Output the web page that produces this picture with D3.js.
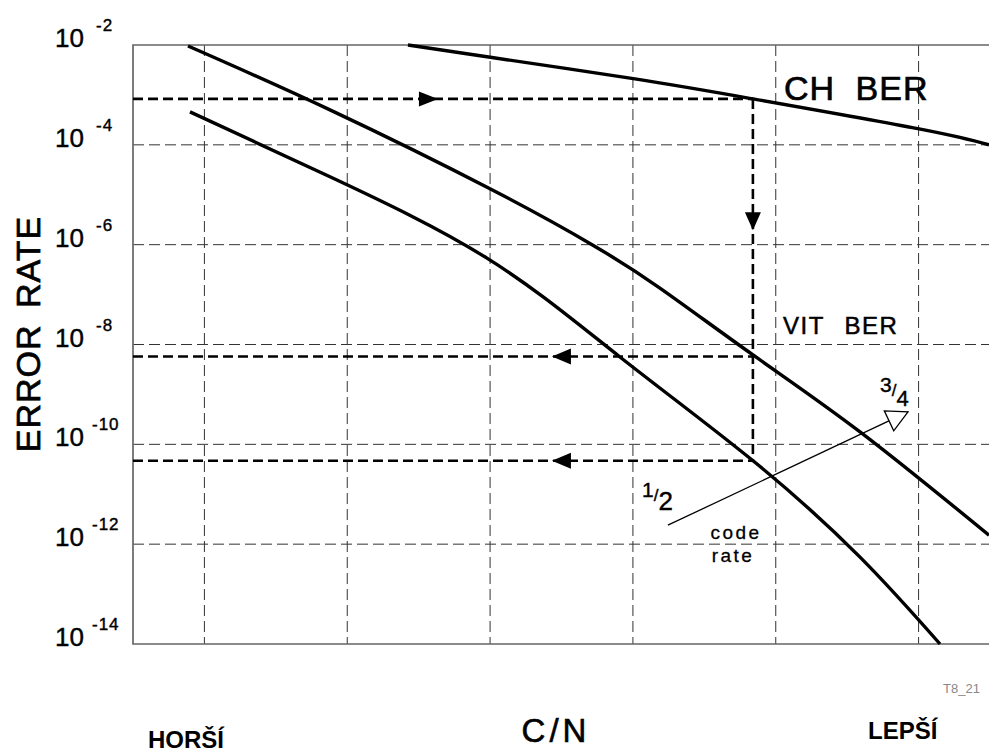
<!DOCTYPE html>
<html>
<head>
<meta charset="utf-8">
<script src="https://cdn.jsdelivr.net/npm/d3@7"></script>
<style>
  body { margin: 0; background: #fff; }
  svg { display: block; font-family: "Liberation Sans", Arial, sans-serif; }
</style>
</head>
<body>
<div id="chart"></div>
<script>
// C/N in arbitrary dB-like units, BER as decimal exponent
const cnGrid = [3, 4, 5, 6, 7, 8];
const berTicks = [-2, -4, -6, -8, -10, -12, -14];

const chBerCN  = [4.425, 5.013, 6.014, 6.841, 8.003, 8.493];
const chBerExp = [-2.00, -2.25, -2.68, -3.08, -3.68, -4.00];

const vit34CN  = [2.885, 3.879, 5.013, 5.720, 6.189, 6.841, 7.590, 8.493];
const vit34Exp = [-2.02, -3.30, -4.90, -6.01, -6.87, -8.21, -9.75, -11.82];

const vit12CN  = [2.899, 3.879, 4.978, 5.909, 6.841, 7.590, 8.150];
const vit12Exp = [-3.34, -4.64, -6.27, -8.25, -10.33, -12.26, -14.00];

// operating point used for the dashed read-off lines
const opCN = 6.84;
const opChExp = -3.08;
const opVitExp = [-8.24, -10.33];

const width = 989, height = 754;

const x = d3.scaleLinear().domain([2.5, 8.5]).range([133, 990]);
const y = d3.scaleLog().domain([1e-2, 1e-14]).range([45, 644]);
const ye = e => y(Math.pow(10, e));

const svg = d3.select('#chart')
  .append('svg')
  .attr('width', width)
  .attr('height', height);

// grid
svg.append('g')
  .selectAll('line')
  .data(berTicks.slice(1, -1))
  .enter()
  .append('line')
  .attr('x1', x(2.5)).attr('x2', width)
  .attr('y1', d => ye(d)).attr('y2', d => ye(d))
  .style('stroke', '#333').style('stroke-width', 1)
  .style('stroke-dasharray', '11,5');

svg.append('g')
  .selectAll('line')
  .data(cnGrid)
  .enter()
  .append('line')
  .attr('x1', d => x(d)).attr('x2', d => x(d))
  .attr('y1', ye(-2)).attr('y2', ye(-14))
  .style('stroke', '#333').style('stroke-width', 1)
  .style('stroke-dasharray', '11,5');

// frame (right side is cut off by the page)
svg.append('path')
  .attr('d', `M${width},${ye(-2)}H${x(2.5)}V${ye(-14)}H${width}`)
  .style('fill', 'none').style('stroke', '#666').style('stroke-width', 1.7);

// y tick labels 10^n
const tl = svg.append('g')
  .selectAll('text')
  .data(berTicks)
  .enter()
  .append('text')
  .attr('x', 55)
  .attr('y', d => ye(d) + 2)
  .style('font-size', '26px')
  .style('fill', '#000')
  .style('stroke', '#000').style('stroke-width', 0.4);
tl.append('tspan').text('10');
tl.append('tspan')
  .attr('x', d => d > -10 ? 96 : 92)
  .attr('dy', -16)
  .style('font-size', '17px')
  .style('letter-spacing', '1px')
  .text(d => '-' + Math.abs(d));

// curves
const line = d3.line()
  .x(d => x(d[0]))
  .y(d => ye(d[1]))
  .curve(d3.curveNatural);

const series = [
  d3.zip(chBerCN, chBerExp),
  d3.zip(vit34CN, vit34Exp),
  d3.zip(vit12CN, vit12Exp)
];

svg.append('g')
  .selectAll('path')
  .data(series)
  .enter()
  .append('path')
  .attr('d', line)
  .style('fill', 'none')
  .style('stroke', '#000')
  .style('stroke-width', 3.4)
  .style('stroke-linejoin', 'round');

// dashed read-off lines
const ref = svg.append('g')
  .style('stroke', '#000').style('stroke-width', 2.6)
  .style('stroke-dasharray', '10,5').style('fill', 'none');

ref.append('line')
  .attr('x1', x(2.5)).attr('x2', x(opCN))
  .attr('y1', ye(opChExp)).attr('y2', ye(opChExp));
ref.append('line')
  .attr('x1', x(opCN)).attr('x2', x(opCN))
  .attr('y1', ye(opChExp)).attr('y2', ye(opVitExp[1]));
ref.selectAll('.h')
  .data(opVitExp)
  .enter()
  .append('line')
  .attr('x1', x(2.5)).attr('x2', x(opCN))
  .attr('y1', d => ye(d)).attr('y2', d => ye(d));

// triangle arrowhead: tip point, direction, length, half width
function arrowHead(tx, ty, dx, dy, len, hw) {
  const n = Math.sqrt(dx * dx + dy * dy);
  const ux = dx / n, uy = dy / n;
  const bx = tx - ux * len, by = ty - uy * len;
  return `M${tx},${ty}L${bx - uy * hw},${by + ux * hw}L${bx + uy * hw},${by - ux * hw}Z`;
}

const heads = svg.append('g').style('fill', '#000');
heads.append('path').attr('d', arrowHead(x(4.635), ye(opChExp), 1, 0, 19, 7.5));
heads.append('path').attr('d', arrowHead(x(opCN), ye(-5.71), 0, 1, 18, 8));
heads.selectAll('.l')
  .data(opVitExp)
  .enter()
  .append('path')
  .attr('d', d => arrowHead(x(5.433), ye(d), -1, 0, 19, 8));

// code rate arrow
const crFrom = [6.245, -11.62], crTo = [7.926, -9.35];
svg.append('line')
  .attr('x1', x(crFrom[0])).attr('y1', ye(crFrom[1]))
  .attr('x2', x(crTo[0])).attr('y2', ye(crTo[1]))
  .style('stroke', '#000').style('stroke-width', 1.3);
svg.append('path')
  .attr('d', arrowHead(x(crTo[0]), ye(crTo[1]),
    x(crTo[0]) - x(crFrom[0]), ye(crTo[1]) - ye(crFrom[1]), 21, 11))
  .style('fill', '#fff').style('stroke', '#000').style('stroke-width', 1.3);

// labels
svg.append('text')
  .attr('x', 784).attr('y', 100)
  .style('font-size', '34px')
  .style('stroke', '#000').style('stroke-width', 0.7)
  .style('letter-spacing', '1px').style('word-spacing', '10px')
  .text('CH BER');

svg.append('text')
  .attr('x', 783).attr('y', 334)
  .style('font-size', '24px')
  .style('stroke', '#000').style('stroke-width', 0.5)
  .style('letter-spacing', '1.5px').style('word-spacing', '12px')
  .text('VIT BER');

const r34 = svg.append('text').attr('x', 880).attr('y', 392)
  .style('stroke', '#000').style('stroke-width', 0.4);
r34.append('tspan').style('font-size', '21px').text('3');
r34.append('tspan').attr('dy', 4).style('font-size', '17px').text('/');
r34.append('tspan').attr('dy', 10).style('font-size', '22px').text('4');

const r12 = svg.append('text').attr('x', 642).attr('y', 497)
  .style('stroke', '#000').style('stroke-width', 0.4);
r12.append('tspan').style('font-size', '21px').text('1');
r12.append('tspan').attr('dy', 4).style('font-size', '17px').text('/');
r12.append('tspan').attr('dy', 9).style('font-size', '26px').text('2');

svg.append('text')
  .attr('x', 736).attr('y', 539)
  .attr('text-anchor', 'middle')
  .style('font-size', '19px').style('letter-spacing', '2.5px')
  .style('stroke', '#000').style('stroke-width', 0.3)
  .text('code');
svg.append('text')
  .attr('x', 733).attr('y', 562)
  .attr('text-anchor', 'middle')
  .style('font-size', '19px').style('letter-spacing', '2.5px')
  .style('stroke', '#000').style('stroke-width', 0.3)
  .text('rate');

// axis titles
svg.append('text')
  .attr('transform', 'translate(40,334) rotate(-90)')
  .attr('text-anchor', 'middle')
  .style('font-size', '34px')
  .style('stroke', '#000').style('stroke-width', 0.7)
  .style('letter-spacing', '1px').style('word-spacing', '6px')
  .text('ERROR RATE');

svg.append('text')
  .attr('x', 556).attr('y', 742)
  .attr('text-anchor', 'middle')
  .style('font-size', '33px').style('letter-spacing', '4px')
  .style('stroke', '#000').style('stroke-width', 0.6)
  .text('C/N');

svg.append('text')
  .attr('x', 148).attr('y', 748)
  .style('font-size', '24px').style('font-weight', 'bold')
  .text('HORŠÍ');

svg.append('text')
  .attr('x', 868).attr('y', 739)
  .style('font-size', '24px').style('font-weight', 'bold')
  .text('LEPŠÍ');

svg.append('text')
  .attr('x', 943).attr('y', 693)
  .style('font-size', '13px').style('fill', '#888')
  .text('T8_21');
</script>
</body>
</html>
